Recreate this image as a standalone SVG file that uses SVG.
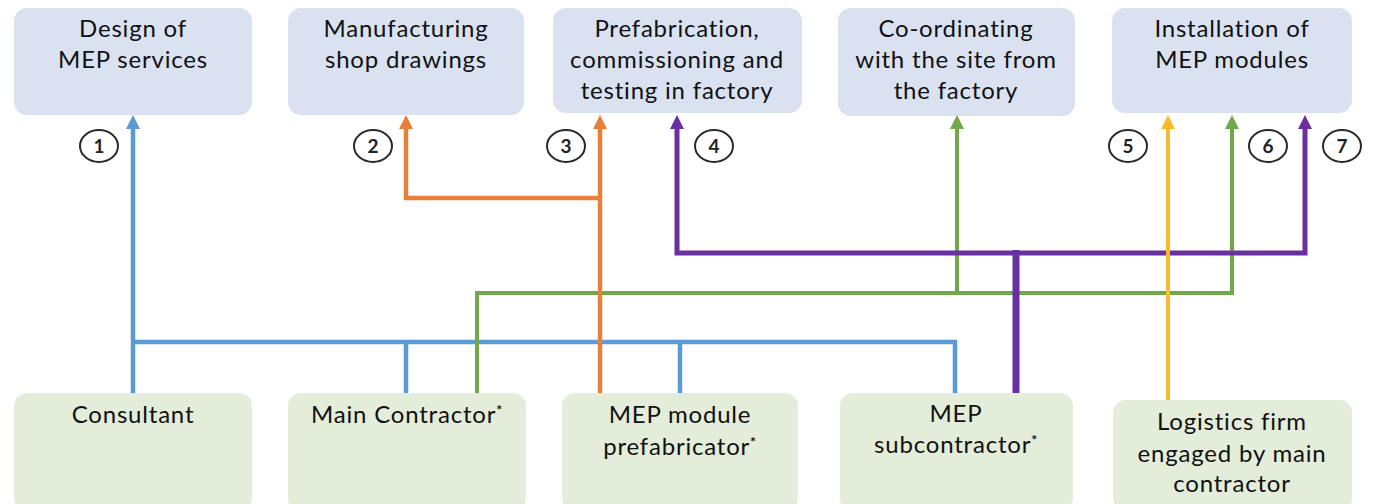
<svg xmlns="http://www.w3.org/2000/svg" width="1373" height="504" viewBox="0 0 1373 504">
<style>
.top{fill:#dae2f1;}
.bot{fill:#e3edd9;}
.t{font-family:Lato,"Open Sans","Liberation Sans",sans-serif;font-size:24px;letter-spacing:0.8px;fill:#111;text-anchor:middle;}
.n{font-family:Lato,"Open Sans","Liberation Sans",sans-serif;font-size:19px;font-weight:bold;fill:#222;text-anchor:middle;}
.c{fill:#fff;stroke:#2a2a2a;stroke-width:2;}
.ln{fill:none;stroke-linejoin:miter;}
.blue{stroke:#5b9bd5;stroke-width:4.5;}
.orange{stroke:#e8803a;stroke-width:4.5;}
.green{stroke:#71a84a;stroke-width:4;}
.purple{stroke:#6a2fa0;stroke-width:5;}
.yellow{stroke:#fbbb2c;stroke-width:4;}
.ast{font-size:14px;font-weight:bold;}
</style>
<defs>
<marker id="aBlue" markerUnits="userSpaceOnUse" markerWidth="16" markerHeight="16" viewBox="0 -8 14 16" refX="0" refY="0" orient="auto"><path d="M0,-7 L14,0 L0,7 Z" fill="#5b9bd5"/></marker>
<marker id="aOrange" markerUnits="userSpaceOnUse" markerWidth="16" markerHeight="16" viewBox="0 -8 14 16" refX="0" refY="0" orient="auto"><path d="M0,-7 L14,0 L0,7 Z" fill="#e8803a"/></marker>
<marker id="aGreen" markerUnits="userSpaceOnUse" markerWidth="16" markerHeight="16" viewBox="0 -8 14 16" refX="0" refY="0" orient="auto"><path d="M0,-7 L14,0 L0,7 Z" fill="#71a84a"/></marker>
<marker id="aPurple" markerUnits="userSpaceOnUse" markerWidth="16" markerHeight="16" viewBox="0 -8 14 16" refX="0" refY="0" orient="auto"><path d="M0,-7 L14,0 L0,7 Z" fill="#6a2fa0"/></marker>
<marker id="aYellow" markerUnits="userSpaceOnUse" markerWidth="16" markerHeight="16" viewBox="0 -8 14 16" refX="0" refY="0" orient="auto"><path d="M0,-7 L14,0 L0,7 Z" fill="#fbbb2c"/></marker>
</defs>
<rect width="1373" height="504" fill="#ffffff"/>

<g id="design">
<rect class="top" x="14" y="8" width="238" height="107" rx="13"/>
<text class="t" x="133" y="37">Design of</text>
<text class="t" x="133" y="68">MEP services</text>
</g>
<g id="shop-drawings">
<rect class="top" x="288" y="8" width="236" height="107" rx="13"/>
<text class="t" x="406" y="37">Manufacturing</text>
<text class="t" x="406" y="68">shop drawings</text>
</g>
<g id="prefabrication">
<rect class="top" x="553" y="8" width="249" height="105" rx="13"/>
<text class="t" x="677" y="37">Prefabrication,</text>
<text class="t" x="677" y="68">commissioning and</text>
<text class="t" x="677" y="99">testing in factory</text>
</g>
<g id="coordinating">
<rect class="top" x="838" y="8" width="237" height="108" rx="13"/>
<text class="t" x="956" y="37">Co-ordinating</text>
<text class="t" x="956" y="68">with the site from</text>
<text class="t" x="956" y="99">the factory</text>
</g>
<g id="installation">
<rect class="top" x="1112" y="8" width="240" height="105" rx="13"/>
<text class="t" x="1232" y="37">Installation of</text>
<text class="t" x="1232" y="68">MEP modules</text>
</g>

<g id="consultant">
<rect class="bot" x="14" y="393" width="238" height="118" rx="13"/>
<text class="t" x="133" y="423">Consultant</text>
</g>
<g id="main-contractor">
<rect class="bot" x="288" y="393" width="238" height="118" rx="13"/>
<text class="t" x="407" y="423">Main Contractor<tspan class="ast" dy="-8">*</tspan></text>
</g>
<g id="prefabricator">
<rect class="bot" x="562" y="393" width="236" height="118" rx="13"/>
<text class="t" x="680" y="423">MEP module</text>
<text class="t" x="680" y="455">prefabricator<tspan class="ast" dy="-8">*</tspan></text>
</g>
<g id="subcontractor">
<rect class="bot" x="840" y="393" width="233" height="118" rx="13"/>
<text class="t" x="956" y="422">MEP</text>
<text class="t" x="956" y="453">subcontractor<tspan class="ast" dy="-8">*</tspan></text>
</g>
<g id="logistics">
<rect class="bot" x="1113" y="400" width="239" height="111" rx="13"/>
<text class="t" x="1232" y="430">Logistics firm</text>
<text class="t" x="1232" y="462">engaged by main</text>
<text class="t" x="1232" y="492">contractor</text>
</g>

<g id="connectors">
<path class="ln blue" d="M133,393 V129" marker-end="url(#aBlue)"/>
<path class="ln blue" d="M955,393 V342 H133"/>
<path class="ln blue" d="M406,342 V393 M680,342 V393"/>
<path class="ln green" d="M477,393 V293 H1232 V129" marker-end="url(#aGreen)"/>
<path class="ln green" d="M957,293 V129" marker-end="url(#aGreen)"/>
<path class="ln orange" d="M600,393 V129" marker-end="url(#aOrange)"/>
<path class="ln orange" d="M600,198 H406 V129" marker-end="url(#aOrange)"/>
<path class="ln purple" d="M1016,253 H677 V129" marker-end="url(#aPurple)"/>
<path class="ln purple" d="M1016,253 H1305 V129" marker-end="url(#aPurple)"/>
<path class="ln purple" style="stroke-width:7" d="M1016,393 V250"/>
<path class="ln yellow" d="M1168,400 V129" marker-end="url(#aYellow)"/>
</g>

<g id="labels">
<ellipse class="c" cx="99" cy="146" rx="19" ry="16"/><text class="n" x="99" y="153">1</text>
<ellipse class="c" cx="373" cy="146" rx="19" ry="16"/><text class="n" x="373" y="153">2</text>
<ellipse class="c" cx="566" cy="146" rx="19" ry="16"/><text class="n" x="566" y="153">3</text>
<ellipse class="c" cx="714" cy="146" rx="19" ry="16"/><text class="n" x="714" y="153">4</text>
<ellipse class="c" cx="1128" cy="146" rx="19" ry="16"/><text class="n" x="1128" y="153">5</text>
<ellipse class="c" cx="1268" cy="146" rx="19" ry="16"/><text class="n" x="1268" y="153">6</text>
<ellipse class="c" cx="1342" cy="146" rx="19" ry="16"/><text class="n" x="1342" y="153">7</text>
</g>
</svg>
